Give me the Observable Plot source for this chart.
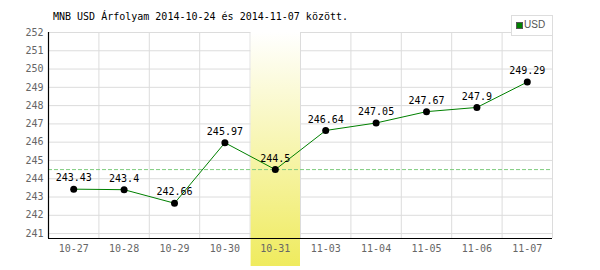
<!DOCTYPE html>
<html>
<head>
<meta charset="utf-8">
<script src="https://cdn.jsdelivr.net/npm/d3@7"></script>
<script src="https://cdn.jsdelivr.net/npm/@observablehq/plot@0.6"></script>
<style>
  body { margin: 0; background: #fff; }
  #wrap { position: relative; width: 600px; height: 270px; overflow: hidden; }
  #title { position: absolute; left: 53px; top: 11px; font: 10px "DejaVu Sans Mono", monospace; color: #000; white-space: pre; }
  #legend { position: absolute; left: 511px; top: 15px; width: 40px; height: 19px; border: 1px solid #ddd; background: #fff; font: 10px "Liberation Sans", sans-serif; color: #555; }
  #legend .sw { position: absolute; left: 4px; top: 6px; width: 5px; height: 5px; background: #008000; border: 1px solid #555; }
  #legend .lb { position: absolute; left: 12px; top: 3px; }
</style>
</head>
<body>
<div id="wrap">
  <div id="chart"></div>
  <div id="title">MNB USD Árfolyam 2014-10-24 és 2014-11-07 között.</div>
  <div id="legend"><div class="sw"></div><div class="lb">USD</div></div>
</div>
<script>
const dates = ["10-27","10-28","10-29","10-30","10-31","11-03","11-04","11-05","11-06","11-07"];
const rates = [243.43, 243.4, 242.66, 245.97, 244.5, 246.64, 247.05, 247.67, 247.9, 249.29];
const yTicks = [241,242,243,244,245,246,247,248,249,250,251,252];
const highlightDate = "10-31";

const data = dates.map((d, i) => ({date: d, i, v: rates[i]}));
const hi = dates.indexOf(highlightDate);
const yDomain = [240.73, 252];

const defs = () => {
  const g = d3.create("svg:defs");
  const lg = g.append("linearGradient").attr("id", "hl").attr("x1", 0).attr("y1", 0).attr("x2", 0).attr("y2", 1);
  lg.append("stop").attr("offset", "0%").attr("stop-color", "#ffffff");
  lg.append("stop").attr("offset", "100%").attr("stop-color", "#efeb5e");
  return g.node();
};

const chart = Plot.plot({
  width: 600,
  height: 270,
  marginLeft: 48,
  marginRight: 48,
  marginTop: 32,
  marginBottom: 32,
  style: {fontFamily: "DejaVu Sans Mono, monospace", fontSize: "10px", background: "transparent"},
  x: {domain: [-0.5, dates.length - 0.5], axis: null},
  y: {domain: yDomain, ticks: yTicks, tickSize: 0, tickPadding: 5, label: null},
  marks: [
    defs,
    Plot.ruleY(yTicks, {x1: -0.5, x2: dates.length - 0.5, stroke: "#dcdcdc", strokeWidth: 1}),
    Plot.ruleX(dates.map((d, i) => i + 0.5), {y1: yDomain[0], y2: yTicks[yTicks.length - 1], stroke: "#dcdcdc", strokeWidth: 1}),
    Plot.rect([data[hi]], {x1: d => d.i - 0.5, x2: d => d.i + 0.5, y1: yDomain[0], y2: yTicks[yTicks.length - 1], insetBottom: -28, insetLeft: 1, fill: "url(#hl)"}),
    Plot.ruleY([rates[hi]], {x1: -0.5, x2: dates.length - 0.5, stroke: "#7fcc7f", strokeDasharray: "4,2", strokeWidth: 1}),
    Plot.ruleY([yDomain[0]], {x1: -0.5, x2: dates.length - 0.5, stroke: "#000", strokeWidth: 1.2}),
    Plot.ruleX([-0.5], {y1: yDomain[0], y2: yTicks[yTicks.length - 1], stroke: "#000", strokeWidth: 1.2}),
    Plot.text(data, {x: "i", y: yDomain[0], text: "date", dy: 10, fill: "#666", fontSize: 10}),
    Plot.line(data, {x: "i", y: "v", stroke: "#008000", strokeWidth: 1}),
    Plot.dot(data, {x: "i", y: "v", r: 3.5, fill: "#000", stroke: "none"}),
    Plot.text(data, {x: "i", y: "v", text: d => String(d.v), dy: -11, fill: "#000", fontSize: 10})
  ]
});
chart.style.color = "#666";
document.getElementById("chart").appendChild(chart);
</script>
</body>
</html>
